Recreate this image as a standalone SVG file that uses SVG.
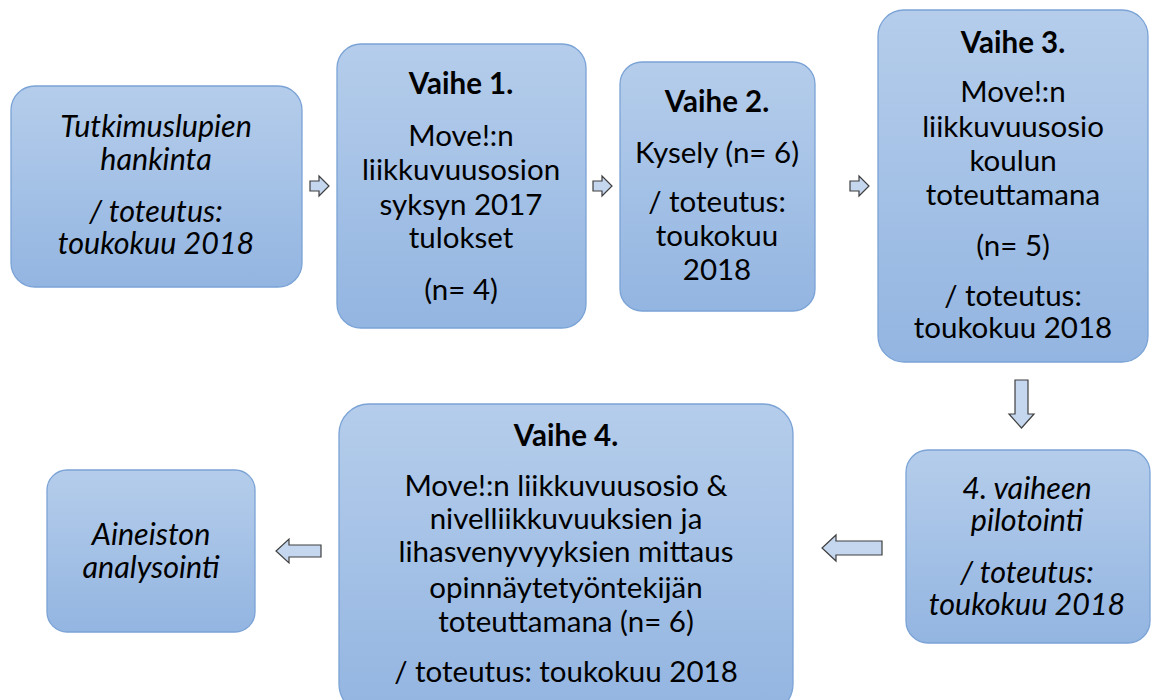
<svg xmlns="http://www.w3.org/2000/svg" width="1153" height="700" viewBox="0 0 1153 700">
<style>
.box{fill:url(#g);stroke:#7BA3D6;stroke-width:1.3}
.t{font-family:Lato,"Open Sans",sans-serif;font-size:29.5px;fill:#000;text-anchor:middle}
.i{font-style:italic;font-size:30.5px}
.b{font-weight:bold}
.ar{fill:#C5D7EF;stroke:#3F3F3F;stroke-width:1.2;stroke-linejoin:miter}
</style>
<defs>
<linearGradient id="g" x1="0" y1="0" x2="0" y2="1">
<stop offset="0" stop-color="#B5CDEB"/>
<stop offset="1" stop-color="#93B5E1"/>
</linearGradient>
</defs>
<rect width="1153" height="700" fill="#fff"/>
<g id="n1">
<rect class="box" x="11" y="86" width="291" height="201" rx="24"/>
<text class="t i" x="156" y="137">Tutkimuslupien</text>
<text class="t i" x="156" y="170">hankinta</text>
<text class="t i" x="156" y="222">/ toteutus:</text>
<text class="t i" x="156" y="254">toukokuu 2018</text>
</g>
<g id="n2">
<rect class="box" x="337" y="44" width="249" height="284" rx="24"/>
<text class="t b" x="461" y="94">Vaihe 1.</text>
<text class="t" x="461" y="146">Move!:n</text>
<text class="t" x="461" y="180">liikkuvuusosion</text>
<text class="t" x="461" y="215">syksyn 2017</text>
<text class="t" x="461" y="248">tulokset</text>
<text class="t" x="461" y="300">(n= 4)</text>
</g>
<g id="n3">
<rect class="box" x="620" y="62" width="195" height="249" rx="22"/>
<text class="t b" x="717" y="112">Vaihe 2.</text>
<text class="t" x="717" y="163">Kysely (n= 6)</text>
<text class="t" x="717" y="212">/ toteutus:</text>
<text class="t" x="717" y="246">toukokuu</text>
<text class="t" x="717" y="280">2018</text>
</g>
<g id="n4">
<rect class="box" x="878" y="10" width="270" height="352" rx="26"/>
<text class="t b" x="1013" y="53">Vaihe 3.</text>
<text class="t" x="1013" y="102">Move!:n</text>
<text class="t" x="1013" y="137">liikkuvuusosio</text>
<text class="t" x="1013" y="171">koulun</text>
<text class="t" x="1013" y="205">toteuttamana</text>
<text class="t" x="1013" y="256">(n= 5)</text>
<text class="t" x="1013" y="306">/ toteutus:</text>
<text class="t" x="1013" y="338">toukokuu 2018</text>
</g>
<g id="n5">
<rect class="box" x="906" y="450" width="244" height="193" rx="22"/>
<text class="t i" x="1027" y="499">4. vaiheen</text>
<text class="t i" x="1027" y="531">pilotointi</text>
<text class="t i" x="1027" y="583">/ toteutus:</text>
<text class="t i" x="1027" y="615">toukokuu 2018</text>
</g>
<g id="n6">
<rect class="box" x="339" y="404" width="454" height="310" rx="30"/>
<text class="t b" x="566" y="446">Vaihe 4.</text>
<text class="t" x="566" y="496">Move!:n liikkuvuusosio &amp;</text>
<text class="t" x="566" y="529">nivelliikkuvuuksien ja</text>
<text class="t" x="566" y="562">lihasvenyvyyksien mittaus</text>
<text class="t" x="566" y="598">opinnäytetyöntekijän</text>
<text class="t" x="566" y="632">toteuttamana (n= 6)</text>
<text class="t" x="566" y="682">/ toteutus: toukokuu 2018</text>
</g>
<g id="n7">
<rect class="box" x="47" y="470" width="208" height="162" rx="20"/>
<text class="t i" x="151" y="545">Aineiston</text>
<text class="t i" x="151" y="578">analysointi</text>
</g>
<g id="connectors">
<polygon class="ar" points="310,181 319,181 319,176 329,186 319,196 319,191 310,191"/>
<polygon class="ar" points="593,181 602,181 602,176 612,186 602,196 602,191 593,191"/>
<polygon class="ar" points="850,181 859,181 859,176 869,186 859,196 859,191 850,191"/>
<polygon class="ar" points="1015,380 1028,380 1028,414 1034,414 1021.5,428 1009,414 1015,414"/>
<polygon class="ar" points="882,541 836,541 836,535 822,548 836,561 836,555 882,555"/>
<polygon class="ar" points="321,545 289,545 289,539 276,551 289,563 289,557 321,557"/>
</g>
</svg>
